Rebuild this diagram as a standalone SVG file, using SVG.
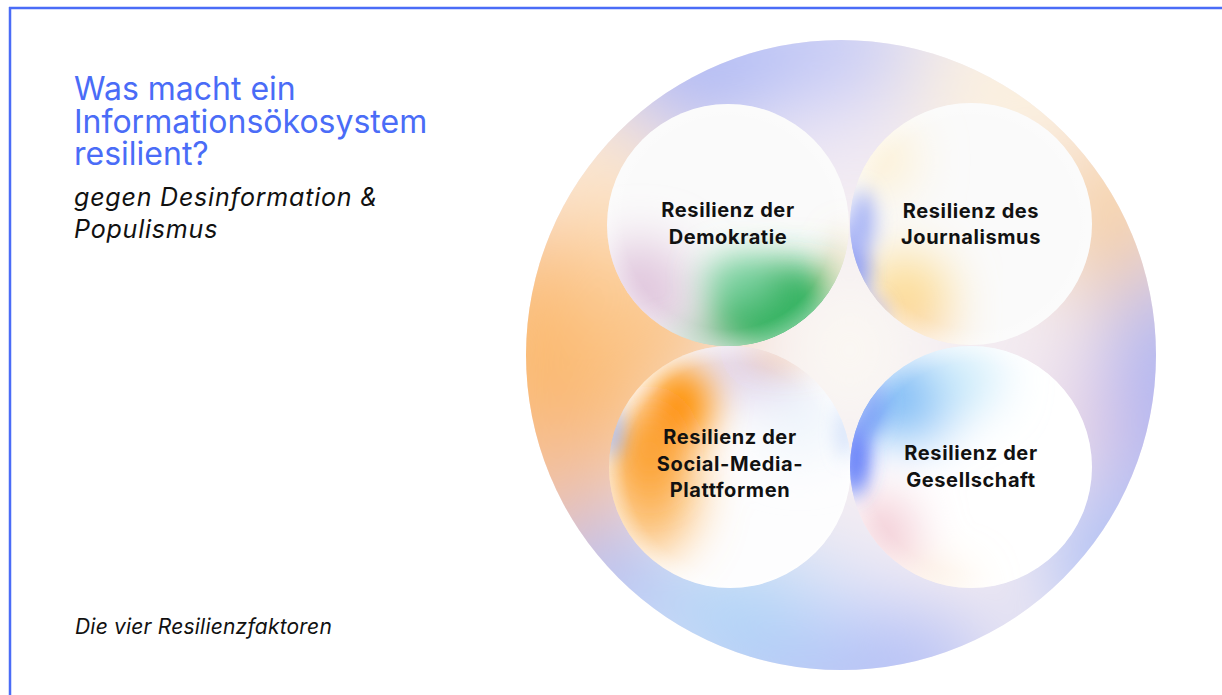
<svg xmlns="http://www.w3.org/2000/svg" width="1222" height="695" viewBox="0 0 1222 695">
<style>
.title{font-family:Inter,"Liberation Sans",sans-serif;font-size:32px;fill:#4a6cf7;}
.sub{font-family:Inter,"Liberation Sans",sans-serif;font-style:italic;font-size:25px;letter-spacing:0.8px;fill:#111;}
.foot{font-family:Inter,"Liberation Sans",sans-serif;font-style:italic;font-size:21px;letter-spacing:0.2px;fill:#111;}
.lbl{font-family:Inter,"Liberation Sans",sans-serif;font-weight:700;font-size:20px;letter-spacing:0.6px;fill:#111;text-anchor:middle;}
</style>
<defs>
<clipPath id="cBig"><circle cx="841" cy="355" r="315"/></clipPath>
<clipPath id="c1"><circle cx="728" cy="225" r="121"/></clipPath>
<clipPath id="c2"><circle cx="971" cy="224" r="121"/></clipPath>
<clipPath id="c3"><circle cx="730" cy="467" r="121"/></clipPath>
<clipPath id="c4"><circle cx="971" cy="467" r="121"/></clipPath>
<filter id="b45" x="-50%" y="-50%" width="200%" height="200%"><feGaussianBlur stdDeviation="45"/></filter>
<filter id="b25" x="-50%" y="-50%" width="200%" height="200%"><feGaussianBlur stdDeviation="25"/></filter>
<filter id="b18" x="-50%" y="-50%" width="200%" height="200%"><feGaussianBlur stdDeviation="18"/></filter>
<filter id="b10" x="-50%" y="-50%" width="200%" height="200%"><feGaussianBlur stdDeviation="10"/></filter>
<radialGradient id="rim" cx="50%" cy="50%" r="50%">
<stop offset="0.86" stop-color="#ffffff" stop-opacity="0"/>
<stop offset="1" stop-color="#ffffff" stop-opacity="0.3"/>
</radialGradient>
</defs>

<g id="frame">
<line x1="9" y1="8" x2="1222" y2="8" stroke="#4a6cf7" stroke-width="2.5"/>
<line x1="10" y1="7" x2="10" y2="695" stroke="#4a6cf7" stroke-width="2.5"/>
</g>

<g id="heading">
<text class="title" x="74" y="100">Was macht ein</text>
<text class="title" x="74" y="132.5">Informationsökosystem</text>
<text class="title" x="74" y="165">resilient?</text>
<text class="sub" x="74" y="206">gegen Desinformation &amp;</text>
<text class="sub" x="74" y="238">Populismus</text>
</g>
<g id="footer">
<text class="foot" x="75" y="634">Die vier Resilienzfaktoren</text>
</g>

<g id="outer-circle">
<g clip-path="url(#cBig)">
<rect x="520" y="35" width="645" height="640" fill="#f3ecf2"/>
<g filter="url(#b45)">
<ellipse cx="555" cy="390" rx="100" ry="180" fill="#fbb86c"/>
<ellipse cx="640" cy="280" rx="70" ry="90" fill="#fcd09c"/>
<ellipse cx="600" cy="170" rx="70" ry="70" fill="#fde6cb"/>
<ellipse cx="760" cy="55" rx="170" ry="60" fill="#b7c1f6"/>
<ellipse cx="690" cy="90" rx="60" ry="40" fill="#a2aef4"/>
<ellipse cx="1010" cy="90" rx="110" ry="60" fill="#fdf1dc"/>
<ellipse cx="1115" cy="220" rx="60" ry="90" fill="#f8cf9f"/>
<ellipse cx="1165" cy="390" rx="50" ry="130" fill="#9eaaf3"/>
<ellipse cx="1090" cy="420" rx="40" ry="60" fill="#e6cde0"/>
<ellipse cx="1115" cy="560" rx="70" ry="70" fill="#a9bcf5"/>
<ellipse cx="840" cy="665" rx="160" ry="50" fill="#a2b2f6"/>
<ellipse cx="750" cy="610" rx="110" ry="60" fill="#b0d6f8"/>
<ellipse cx="600" cy="575" rx="60" ry="60" fill="#a9b9f5"/>
<ellipse cx="560" cy="480" rx="45" ry="55" fill="#efc5b0"/>
<ellipse cx="850" cy="350" rx="70" ry="90" fill="#fcf9f3"/>
<ellipse cx="850" cy="115" rx="50" ry="40" fill="#eae4f6"/>
<ellipse cx="680" cy="340" rx="60" ry="40" fill="#fbbd78"/>
<ellipse cx="850" cy="600" rx="60" ry="30" fill="#dde2fa"/>
</g>
</g>
</g>

<g id="node-demokratie">
<g clip-path="url(#c1)">
<rect x="600" y="100" width="260" height="250" fill="#fafafa"/>
<g filter="url(#b25)">
<ellipse cx="640" cy="295" rx="50" ry="55" fill="#e0c6dd"/>
<ellipse cx="790" cy="325" rx="80" ry="50" fill="#2fb05c"/>
</g>
<g filter="url(#b18)">
<ellipse cx="775" cy="305" rx="55" ry="38" fill="#34b362"/>
<ellipse cx="740" cy="280" rx="35" ry="22" fill="#7bd3a2"/>
<ellipse cx="700" cy="350" rx="45" ry="15" fill="#94bda0"/>
<ellipse cx="850" cy="270" rx="10" ry="35" fill="#e9bd7c"/>
</g>
<circle cx="728" cy="225" r="121" fill="url(#rim)"/>
</g>
<text class="lbl" x="728" y="217">Resilienz der</text>
<text class="lbl" x="728" y="244">Demokratie</text>
</g>

<g id="node-journalismus">
<g clip-path="url(#c2)">
<rect x="845" y="100" width="255" height="250" fill="#fafafa"/>
<g filter="url(#b25)">
<ellipse cx="905" cy="295" rx="45" ry="40" fill="#fddc90"/>
<ellipse cx="880" cy="160" rx="35" ry="35" fill="#fdefcf"/>
<ellipse cx="905" cy="335" rx="45" ry="20" fill="#fbd2a6"/>
</g>
<g filter="url(#b10)">
<ellipse cx="848" cy="272" rx="18" ry="55" fill="#4f68ef"/>
<ellipse cx="860" cy="222" rx="14" ry="32" fill="#a3b0f5"/>
<ellipse cx="872" cy="318" rx="12" ry="18" fill="#8f8fe8"/>
</g>
<circle cx="971" cy="224" r="121" fill="url(#rim)"/>
</g>
<text class="lbl" x="971" y="217.5">Resilienz des</text>
<text class="lbl" x="971" y="244">Journalismus</text>
</g>

<g id="node-social-media">
<g clip-path="url(#c3)">
<rect x="605" y="342" width="250" height="250" fill="#fdfdfe"/>
<g filter="url(#b25)">
<ellipse cx="745" cy="368" rx="60" ry="30" fill="#ddd0eb"/>
<ellipse cx="650" cy="485" rx="45" ry="70" fill="#fcb65e"/>
<ellipse cx="800" cy="420" rx="40" ry="40" fill="#eef5fc"/>
</g>
<g filter="url(#b18)">
<ellipse cx="680" cy="405" rx="32" ry="40" fill="#ff8f00"/>
<ellipse cx="650" cy="450" rx="28" ry="42" fill="#fca133"/>
<ellipse cx="785" cy="350" rx="40" ry="9" fill="#f4a460"/>
</g>
<g filter="url(#b10)">
<ellipse cx="610" cy="430" rx="9" ry="26" fill="#6d90f0"/>
<ellipse cx="848" cy="430" rx="6" ry="28" fill="#a2c0f5"/>
</g>
<circle cx="730" cy="467" r="121" fill="url(#rim)"/>
</g>
<text class="lbl" x="730" y="444">Resilienz der</text>
<text class="lbl" x="730" y="470.5">Social-Media-</text>
<text class="lbl" x="730" y="497">Plattformen</text>
</g>

<g id="node-gesellschaft">
<g clip-path="url(#c4)">
<rect x="845" y="342" width="255" height="250" fill="#ffffff"/>
<g filter="url(#b25)">
<ellipse cx="905" cy="395" rx="55" ry="45" fill="#78b8f5"/>
<ellipse cx="960" cy="380" rx="40" ry="30" fill="#c6e9fa"/>
<ellipse cx="880" cy="535" rx="35" ry="40" fill="#f1c4cf"/>
<ellipse cx="930" cy="590" rx="40" ry="15" fill="#fbdfbf"/>
</g>
<g filter="url(#b10)">
<ellipse cx="850" cy="455" rx="18" ry="42" fill="#3d5ff7"/>
<ellipse cx="866" cy="402" rx="16" ry="34" fill="#6590f5"/>
</g>
<circle cx="971" cy="467" r="121" fill="url(#rim)"/>
</g>
<text class="lbl" x="971" y="460">Resilienz der</text>
<text class="lbl" x="971" y="487">Gesellschaft</text>
</g>

<g id="connectors"></g>
</svg>
